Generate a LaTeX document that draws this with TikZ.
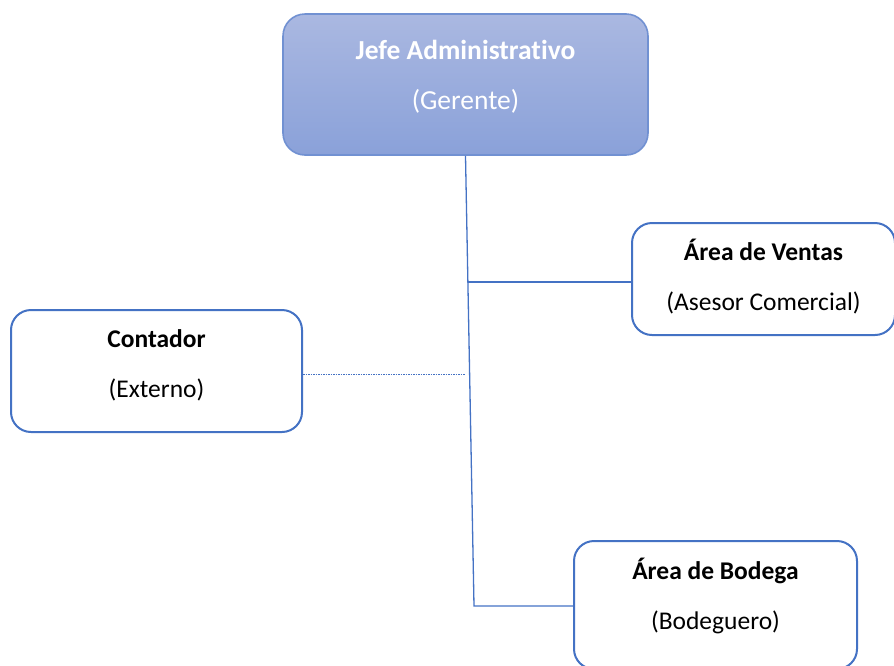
\documentclass[tikz,border=0pt]{standalone}
\usepackage{fontspec}
\setmainfont[Ligatures=NoCommon]{Carlito}
\usetikzlibrary{calc}
\definecolor{obl}{HTML}{4472C4}
\definecolor{topedge}{HTML}{7191D2}
\definecolor{toptop}{HTML}{AAB8E1}
\definecolor{topbot}{HTML}{8AA1D9}
\newcommand\lowpad[1]{\rule[-#1]{0pt}{#1}}
\tikzset{
  orgbox/.style={draw=obl, line width=2pt, rounded corners=20pt, fill=white,
    align=center, font=\fontsize{25.5}{30}\selectfont, inner sep=0pt},
  topbox/.style={draw=topedge, line width=1.6pt, rounded corners=22pt,
    top color=toptop, bottom color=topbot, text=white,
    align=center, font=\fontsize{27.5}{32}\selectfont, inner sep=0pt},
  link/.style={draw=obl, line width=1.3pt},
  dotlink/.style={draw=obl, line width=0.8pt, dash pattern=on 1.5pt off 1pt}
}
\begin{document}
\begin{tikzpicture}[x=1pt,y=-1pt]
\useasboundingbox (0,0) rectangle (894,665);
\node[topbox, minimum width=365pt, minimum height=141pt] (top) at (465.5,84.5)
  {\textbf{Jefe Administrativo}\\[18pt](Gerente)\lowpad{19pt}};
\node[orgbox, minimum width=263pt, minimum height=112pt] (ventas) at (763.5,279)
  {\textbf{Área de Ventas}\\[20pt](Asesor Comercial)\lowpad{8pt}};
\node[orgbox, minimum width=291pt, minimum height=122pt] (contador) at (156.5,371)
  {\textbf{Contador}\\[20pt](Externo)\lowpad{14pt}};
\node[orgbox, minimum width=283pt, minimum height=128pt] (bodega) at (715.5,605)
  {\textbf{Área de Bodega}\\[20pt](Bodeguero)\lowpad{22pt}};
\coordinate (vb) at (474,606);
\coordinate (cend) at (465,374);
\coordinate (vj) at ($(top.south)!(ventas.west)!(vb)$);
\draw[link] (top.south) -- (vb) -- (vb -| bodega.west);
\draw[link] (vj) -- (vj -| ventas.west);
\draw[dotlink] (contador.east |- cend) -- (cend);
\end{tikzpicture}
\end{document}
